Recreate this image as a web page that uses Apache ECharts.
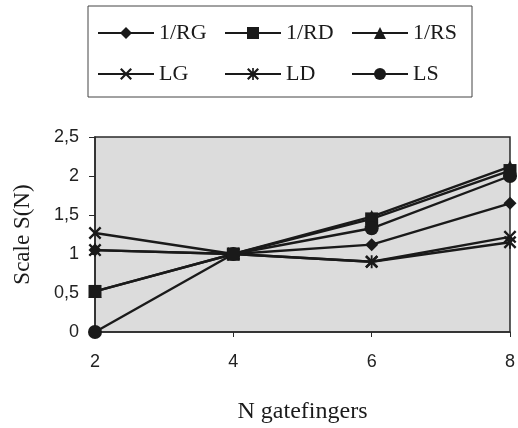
<!DOCTYPE html>
<html>
<head>
<meta charset="utf-8">
<script src="https://cdn.jsdelivr.net/npm/echarts@6/dist/echarts.min.js"></script>
<style>
  html, body { margin: 0; padding: 0; background: #ffffff; }
  #chart { width: 518px; height: 428px; }
</style>
</head>
<body>
<div id="chart"></div>
<script>
// Data
const nGatefingers = [2, 4, 6, 8];
const invRG = [1.05, 1.00, 1.12, 1.65];
const invRD = [0.52, 1.00, 1.45, 2.07];
const invRS = [0.52, 1.00, 1.48, 2.12];
const LG    = [1.27, 1.00, 0.90, 1.22];
const LD    = [1.05, 1.00, 0.90, 1.15];
const LS    = [0.00, 1.00, 1.33, 2.00];
const seriesNames = ['1/RG', '1/RD', '1/RS', 'LG', 'LD', 'LS'];
const yTicks = [0, 0.5, 1, 1.5, 2, 2.5];

const crossPath = 'path://M0,1.3 L1.3,0 L5,3.7 L8.7,0 L10,1.3 L6.3,5 L10,8.7 L8.7,10 L5,6.3 L1.3,10 L0,8.7 L3.7,5 Z';
const starPath = 'path://M0,1.3 L1.3,0 L5,3.7 L8.7,0 L10,1.3 L6.3,5 L10,8.7 L8.7,10 L5,6.3 L1.3,10 L0,8.7 L3.7,5 Z M4.3,0 L5.7,0 L5.7,10 L4.3,10 Z';

const ink = '#1a1a1a';
function mk(name, vals, symbol, size) {
  return {
    name: name,
    type: 'line',
    data: nGatefingers.map((x, i) => [x, vals[i]]),
    symbol: symbol,
    symbolSize: size,
    showAllSymbol: true,
    lineStyle: { color: ink, width: 2.4 },
    itemStyle: { color: ink, borderColor: ink, borderWidth: 0 },
    emphasis: { disabled: true },
    animation: false,
    clip: false
  };
}

const chart = echarts.init(document.getElementById('chart'), null, { renderer: 'canvas' });
chart.setOption({
  backgroundColor: '#ffffff',
  animation: false,
  legend: {
    data: [seriesNames[0], seriesNames[1], seriesNames[2], '\n', seriesNames[3], seriesNames[4], seriesNames[5]],
    left: 88,
    top: 6,
    width: 440,
    orient: 'horizontal',
    padding: [13, 7, 9, 9],
    itemGap: 13,
    itemWidth: 56,
    itemHeight: 15,
    borderColor: '#444',
    borderWidth: 1,
    selectedMode: false,
    textStyle: {
      fontFamily: 'Liberation Serif',
      fontSize: 22,
      color: '#1a1a1a',
      width: 52,
      lineHeight: 28
    }
  },
  grid: {
    left: 95,
    right: 7,
    top: 137,
    bottom: 96,
    show: true,
    backgroundColor: '#dcdcdc',
    borderColor: '#2a2a2a',
    borderWidth: 1.5,
    containLabel: false
  },
  xAxis: {
    type: 'value',
    min: 2,
    max: 8,
    interval: 2,
    name: 'N gatefingers',
    nameLocation: 'middle',
    nameGap: 68,
    nameTextStyle: { fontFamily: 'Liberation Serif', fontSize: 24, color: '#1a1a1a' },
    axisLine: { show: true, lineStyle: { color: '#2a2a2a', width: 1.5 } },
    axisTick: { show: true, inside: false, length: 5, lineStyle: { color: '#2a2a2a' } },
    axisLabel: { margin: 21, fontFamily: 'Liberation Sans', fontSize: 18, color: '#222' },
    splitLine: { show: false }
  },
  yAxis: {
    type: 'value',
    min: 0,
    max: 2.5,
    interval: 0.5,
    name: 'Scale S(N)',
    nameLocation: 'middle',
    nameGap: 61,
    nameRotate: 90,
    nameTextStyle: { fontFamily: 'Liberation Serif', fontSize: 23, color: '#1a1a1a' },
    axisLine: { show: true, lineStyle: { color: '#2a2a2a', width: 1.5 } },
    axisTick: { show: true, inside: false, length: 6, lineStyle: { color: '#2a2a2a' } },
    axisLabel: {
      margin: 16,
      fontFamily: 'Liberation Sans',
      fontSize: 18,
      color: '#222',
      formatter: v => yTicks.includes(v) ? String(v).replace('.', ',') : ''
    },
    splitLine: { show: false }
  },
  series: [
    mk(seriesNames[0], invRG, 'diamond', 13),
    mk(seriesNames[1], invRD, 'rect', 13),
    mk(seriesNames[2], invRS, 'triangle', 13),
    mk(seriesNames[3], LG, crossPath, 13),
    mk(seriesNames[4], LD, starPath, 13),
    mk(seriesNames[5], LS, 'circle', 14)
  ]
});
</script>
</body>
</html>
